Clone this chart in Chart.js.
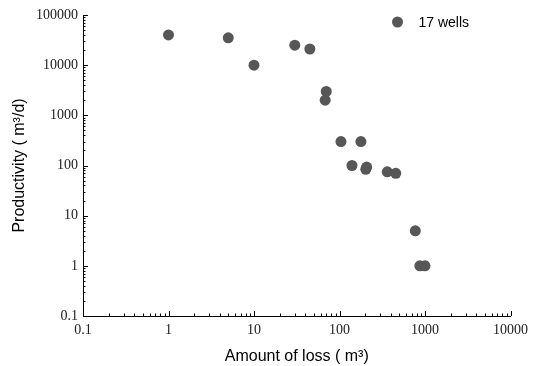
<!DOCTYPE html>
<html>
<head>
<meta charset="utf-8">
<script src="https://cdn.jsdelivr.net/npm/chart.js@4/dist/chart.umd.min.js"></script>
<style>
  html, body { margin: 0; padding: 0; background: #fff; }
  #wrap { width: 534px; height: 366px; }
</style>
</head>
<body>
<div id="wrap"><canvas id="c"></canvas></div>
<script>
// data
var lossVol = [1, 5, 10, 30, 45, 70, 68, 104, 178, 140, 203, 208, 362, 455, 770, 870, 1000];
var productivity = [40000, 35000, 10000, 25000, 21000, 3000, 2000, 300, 300, 100, 84, 93, 75, 70, 5, 1, 1];
var seriesName = '17 wells';
var xTicks = [0.1, 1, 10, 100, 1000, 10000];
var yTicks = [0.1, 1, 10, 100, 1000, 10000, 100000];

var pts = lossVol.map(function(v, i) {
    return {x: v, y: productivity[i]};
});

// inward ticks (major + minor) drawn from the scales
var inTicks = {
    id: 'inTicks',
    afterDraw: function(chart) {
        var ctx = chart.ctx;
        var xs = chart.scales.x, ys = chart.scales.y;
        var a = chart.chartArea;
        ctx.save();
        ctx.strokeStyle = '#000';
        ctx.lineWidth = 1;
        ctx.beginPath();
        for (var e = -1; e < 4; e++) {
            for (var m = 1; m <= 10; m++) {
                var v = m * Math.pow(10, e);
                var px = Math.round(xs.getPixelForValue(v)) + 0.5;
                var len = (m == 1 || m == 10) ? 5 : 2.5;
                ctx.moveTo(px, a.bottom);
                ctx.lineTo(px, a.bottom - len);
            }
        }
        for (var e = -1; e < 5; e++) {
            for (var m = 1; m <= 10; m++) {
                var v = m * Math.pow(10, e);
                var py = Math.round(ys.getPixelForValue(v)) + 0.5;
                var len = (m == 1 || m == 10) ? 5 : 2.5;
                ctx.moveTo(a.left, py);
                ctx.lineTo(a.left + len, py);
            }
        }
        ctx.stroke();
        ctx.restore();
    }
};

// legend: dot + label inside the plot, top right
var dotLegend = {
    id: 'dotLegend',
    afterDraw: function(chart) {
        var ctx = chart.ctx, a = chart.chartArea;
        var ds = chart.data.datasets[0];
        var x = a.right - 113, y = a.top + 7;
        ctx.save();
        ctx.fillStyle = ds.backgroundColor;
        ctx.beginPath();
        ctx.arc(x, y, ds.pointRadius, 0, Math.PI * 2);
        ctx.fill();
        ctx.fillStyle = '#000';
        ctx.font = '14px "Liberation Sans", Arial, sans-serif';
        ctx.textBaseline = 'middle';
        ctx.fillText(ds.label, x + 21, y + 1);
        ctx.restore();
    }
};

var ctx = document.getElementById('c');
var myChart = new Chart(ctx, {
    type: 'scatter',
    data: {
        datasets: [{
            label: seriesName,
            data: pts,
            backgroundColor: '#575757',
            borderColor: '#575757',
            borderWidth: 0,
            pointRadius: 5.5,
            pointHoverRadius: 5.5
        }]
    },
    options: {
        responsive: true,
        maintainAspectRatio: false,
        animation: false,
        layout: {padding: {top: 15, right: 19, left: 0, bottom: 0}},
        plugins: {
            legend: {display: false},
            tooltip: {enabled: false}
        },
        scales: {
            x: {
                type: 'logarithmic',
                min: 0.1,
                max: 10000,
                afterBuildTicks: function(s) {
                    s.ticks = xTicks.map(function(v) { return {value: v}; });
                },
                afterFit: function(s) { s.height = 50; },
                grid: {display: false, drawTicks: false},
                border: {display: true, color: '#000', width: 1},
                ticks: {
                    autoSkip: false,
                    maxRotation: 0,
                    padding: 6,
                    color: '#222',
                    font: {family: '"Liberation Serif", "Times New Roman", serif', size: 14},
                    callback: function(v) { return String(v); }
                },
                title: {
                    display: true,
                    text: 'Amount of loss ( m³)',
                    color: '#000',
                    font: {family: '"Liberation Sans", Arial, sans-serif', size: 16},
                    padding: {top: 4, bottom: 0}
                }
            },
            y: {
                type: 'logarithmic',
                min: 0.1,
                max: 100000,
                afterBuildTicks: function(s) {
                    s.ticks = yTicks.map(function(v) { return {value: v}; });
                },
                afterFit: function(s) { s.width = 83; },
                grid: {display: false, drawTicks: false},
                border: {display: true, color: '#000', width: 1},
                ticks: {
                    autoSkip: false,
                    padding: 5,
                    color: '#222',
                    font: {family: '"Liberation Serif", "Times New Roman", serif', size: 14},
                    callback: function(v) { return String(v); }
                },
                title: {
                    display: true,
                    text: 'Productivity ( m³/d)',
                    color: '#000',
                    font: {family: '"Liberation Sans", Arial, sans-serif', size: 16},
                    padding: {top: 10, bottom: 0}
                }
            }
        }
    },
    plugins: [inTicks, dotLegend]
});
</script>
</body>
</html>
